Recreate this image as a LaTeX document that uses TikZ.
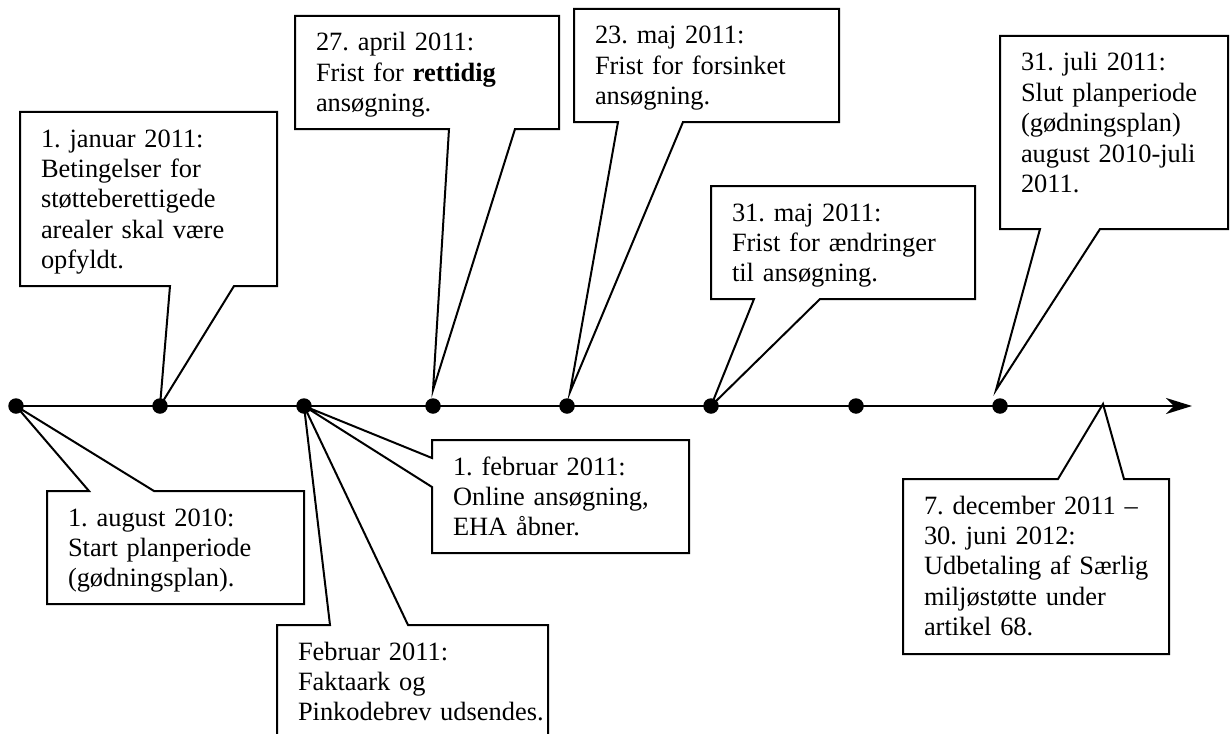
\documentclass[tikz,border=0pt]{standalone}
\usepackage{fontspec}
\setmainfont{Liberation Serif}
\frenchspacing
\usetikzlibrary{arrows.meta}

\tikzset{
  boks/.style={anchor=north west, inner xsep=21pt, inner ysep=0pt, outer sep=0pt,
    align=left, text height=35pt, font=\fontsize{26.4pt}{30.4pt}\selectfont},
  kant/.style={line width=2pt},
  prik/.style={circle, fill=black, inner sep=0pt, minimum size=15.5pt},
  akse/.style={line width=2.5pt, -{Stealth[length=26pt,width=16pt,inset=8pt]}},
}

\begin{document}
\begin{tikzpicture}[x=1pt,y=-1pt]
  \useasboundingbox (0,0) rectangle (1230,733);
  \clip (0,0) rectangle (1230,733);

  % tidslinje med prikker
  \node[prik] (d1) at (16,406) {};
  \node[prik] (d2) at (160,406) {};
  \node[prik] (d3) at (304,406) {};
  \node[prik] (d4) at (433,406) {};
  \node[prik] (d5) at (567,406) {};
  \node[prik] (d6) at (711,406) {};
  \node[prik] (d7) at (856,406) {};
  \node[prik] (d8) at (1000,406) {};
  \coordinate (slut) at (1192,406);
  \draw[akse] (d1.center) -- (slut);

  % spidser der ikke rammer en prik
  \coordinate (tapr) at (433,390);
  \coordinate (tmaj) at (570,392);
  \coordinate (tjul) at (996,390);
  \coordinate (tdec) at (1103,404);

  % over linjen
  \node[boks, text width=215pt, text depth=139pt] (jan) at (20,112)
    {1. januar 2011:\\Betingelser for\\støtteberettigede\\arealer skal være\\opfyldt.};
  \draw[kant] (jan.north west) -- (jan.north east) -- (jan.south east) -- (234,0 |- jan.south)
    -- (d2.center) -- (170,0 |- jan.south) -- (jan.south west) -- cycle;

  \node[boks, text width=222pt, text depth=78pt] (apr) at (295,16)
    {27. april 2011:\\Frist for \textbf{rettidig}\\ansøgning.};
  \draw[kant] (apr.north west) -- (apr.north east) -- (apr.south east) -- (515,0 |- apr.south)
    -- (tapr) -- (449,0 |- apr.south) -- (apr.south west) -- cycle;

  \node[boks, text width=223pt, text depth=78pt] (maj23) at (574,9)
    {23. maj 2011:\\Frist for forsinket\\ansøgning.};
  \draw[kant] (maj23.north west) -- (maj23.north east) -- (maj23.south east) -- (683,0 |- maj23.south)
    -- (tmaj) -- (618,0 |- maj23.south) -- (maj23.south west) -- cycle;

  \node[boks, text width=222pt, text depth=78pt] (maj31) at (711,186)
    {31. maj 2011:\\Frist for ændringer\\til ansøgning.};
  \draw[kant] (maj31.north west) -- (maj31.north east) -- (maj31.south east) -- (820,0 |- maj31.south)
    -- (d6.center) -- (754,0 |- maj31.south) -- (maj31.south west) -- cycle;

  \node[boks, text width=186pt, text depth=158pt] (jul) at (1000,36)
    {31. juli 2011:\\Slut planperiode\\(gødningsplan)\\august 2010-juli\\2011.};
  \draw[kant] (jul.north west) -- (jul.north east) -- (jul.south east) -- (1100,0 |- jul.south)
    -- (tjul) -- (1040,0 |- jul.south) -- (jul.south west) -- cycle;

  % under linjen
  \node[boks, text width=215pt, text depth=78pt] (aug) at (47,491)
    {1. august 2010:\\Start planperiode\\(gødningsplan).};
  \draw[kant] (aug.south west) -- (aug.north west) -- (89,0 |- aug.north)
    -- (d1.center) -- (154,0 |- aug.north) -- (aug.north east) -- (aug.south east) -- cycle;

  \node[boks, text width=215pt, text depth=78pt] (online) at (432,440)
    {1. februar 2011:\\Online ansøgning,\\EHA åbner.};
  \draw[kant] (online.north west) -- (online.north east) -- (online.south east) -- (online.south west)
    -- (online.west |- 0,487) -- (d3.center) -- (online.west |- 0,458) -- cycle;

  \node[boks, text width=229pt, text depth=100pt] (feb) at (277,625)
    {Februar 2011:\\Faktaark og\\\mbox{Pinkodebrev udsendes.}};
  \draw[kant] (feb.south west) -- (feb.north west) -- (330,0 |- feb.north)
    -- (d3.center) -- (408,0 |- feb.north) -- (feb.north east) -- (feb.south east) -- cycle;

  \node[boks, text width=224pt, text depth=140pt] (dec) at (903,479)
    {7. december 2011 –\\30. juni 2012:\\\mbox{Udbetaling af Særlig}\\miljøstøtte under\\artikel 68.};
  \draw[kant] (dec.south west) -- (dec.north west) -- (1058,0 |- dec.north)
    -- (tdec) -- (1124,0 |- dec.north) -- (dec.north east) -- (dec.south east) -- cycle;
\end{tikzpicture}
\end{document}
